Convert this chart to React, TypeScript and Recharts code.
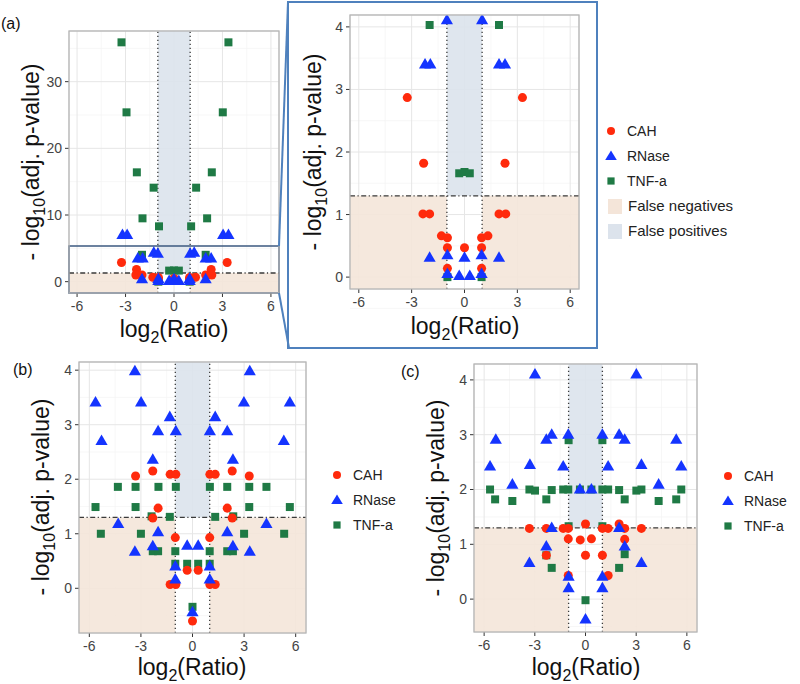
import React from "react"
import { CartesianGrid, ReferenceArea, ReferenceLine, Scatter, ScatterChart, XAxis, YAxis, ZAxis } from "recharts"

type Pt = [number, number]

// (a) one run, shown whole and zoomed into the bottom strip
const aCAH: Pt[] = [
  [-3.25, 2.87], [3.29, 2.87], [-2.32, 1.82], [2.3, 1.82], [-2.36, 1.01], [-1.98, 1.01], [1.96, 1.01], [2.34, 1.01],
  [-1.31, 0.66], [-0.97, 0.63], [0.97, 0.63], [1.33, 0.66], [-0.97, 0.47], [0, 0.47], [0.97, 0.47], [-0.97, 0.14], [0.97, 0.14],
]
const aRNase: Pt[] = [
  [-3.19, 6.93], [-2.9, 6.93], [3.04, 6.93], [3.37, 6.93], [-1.25, 4.25], [-1.0, 4.1], [1.0, 4.1], [1.25, 4.25],
  [-2.24, 3.39], [-1.94, 3.39], [1.96, 3.39], [2.3, 3.39], [-1.98, 0.3], [1.96, 0.3], [-0.97, 0.34], [0, 0.3], [0.97, 0.34],
  [-0.97, 0.04], [0.97, 0.04], [-0.3, 0.01], [0.3, 0.01],
]
const aTNF: Pt[] = [
  [-3.25, 35.9], [3.37, 35.9], [-2.94, 25.4], [3.02, 25.4], [-2.3, 16.4], [2.34, 16.4], [-1.26, 14.1], [1.37, 14.1],
  [-1.95, 9.5], [2.05, 9.5], [-0.93, 8.3], [1.06, 8.3], [-1.98, 4.03], [1.96, 4.03], [-0.3, 1.66], [0, 1.68], [0.3, 1.66],
  [-0.97, 0], [0.97, 0],
]

// (b)
const bCAH: Pt[] = [
  [-3.31, 2.06], [3.3, 2.06], [-2.31, 2.15], [2.31, 2.15], [-1.3, 2.09], [-0.97, 2.09], [1.01, 2.09], [1.32, 2.09],
  [-2.0, 1.47], [2.02, 1.47], [-2.31, 1.29], [2.31, 1.29], [-1, 0.93], [1, 0.93], [-0.31, 0.33], [0.33, 0.33],
  [-1.3, 0.07], [-0.97, 0.07], [1.01, 0.07], [1.32, 0.07], [0, -0.6],
]
const bRNase: Pt[] = [
  [-3.35, 3.97], [3.33, 3.97], [-5.64, 3.4], [-2.99, 3.4], [2.99, 3.4], [5.66, 3.4], [-1.32, 3.13], [1.32, 3.13],
  [-2.0, 2.87], [-0.97, 2.87], [1.01, 2.87], [2.02, 2.87], [-5.29, 2.69], [5.31, 2.69], [-2.31, 2.35], [2.35, 2.35],
  [-4.32, 1.17], [4.3, 1.17], [-2.0, 1.02], [2.02, 1.02], [-3.35, 0.66], [3.33, 0.66], [-2.31, 0.76], [2.35, 0.76],
  [-0.31, 0.77], [0.33, 0.77], [-1, 0.39], [1, 0.39], [-1, 0.15], [1, 0.15], [0, -0.45],
]
const bTNF: Pt[] = [
  [-4.34, 1.86], [-3.31, 1.86], [-1.98, 1.86], [-0.97, 1.86], [1.01, 1.86], [2.02, 1.86], [3.3, 1.86], [4.3, 1.86],
  [-5.64, 1.49], [-3.31, 1.49], [3.3, 1.49], [5.66, 1.49], [-5.33, 1.0], [-3.0, 1.0], [3.0, 1.0], [5.33, 1.0],
  [-2.38, 1.32], [-1.32, 1.31], [1.32, 1.31], [2.37, 1.32], [-2.31, 0.68], [-2.0, 0.68], [-1, 0.68], [1, 0.68],
  [2.02, 0.68], [2.35, 0.68], [-1, 0.45], [-0.31, 0.45], [0.33, 0.45], [1, 0.45], [0, -0.34],
]

// (c)
const cCAH: Pt[] = [
  [-3.32, 1.29], [-2.32, 1.29], [-1.32, 1.29], [-1.02, 1.29], [1.0, 1.29], [1.34, 1.29], [2.32, 1.29], [3.31, 1.29],
  [0, 1.37], [1.99, 1.37], [-1.02, 1.1], [-0.31, 1.08], [0.35, 1.1], [2.32, 1.09], [0, 0.8], [1.0, 0.8], [-2.32, 0.8],
  [-1.02, 0.43], [1.34, 0.43],
]
const cRNase: Pt[] = [
  [-2.99, 4.09], [3.01, 4.09], [-5.31, 2.9], [-2.32, 2.9], [-2.0, 2.99], [-1.02, 2.99], [1.0, 2.99], [1.99, 2.99],
  [2.32, 2.9], [5.37, 2.9], [-5.65, 2.41], [-3.29, 2.44], [-1.32, 2.41], [1.34, 2.41], [3.31, 2.44], [5.67, 2.41],
  [-4.33, 2.08], [4.33, 2.08], [-0.33, 1.99], [0.35, 1.99], [-2.0, 1.29], [1.99, 1.29], [-2.32, 0.95], [2.32, 0.95],
  [-3.32, 0.65], [3.31, 0.65], [-1, 0.4], [1, 0.4], [-1, 0.19], [1, 0.19], [0, -0.38],
]
const cTNF: Pt[] = [
  [-5.65, 2.0], [-5.35, 1.82], [-4.33, 1.79], [-3.32, 2.0], [-2.99, 1.98], [-2.32, 1.82], [-2.0, 1.99], [-1.32, 2.0],
  [-1.02, 2.0], [-0.33, 2.0], [0.35, 2.0], [1.0, 2.0], [1.34, 2.0], [1.99, 1.99], [2.32, 1.82], [3.01, 1.98],
  [3.31, 2.0], [4.33, 1.79], [5.37, 1.82], [5.67, 2.0], [-1, 2.9], [1, 2.9], [-1, 1.33], [1, 1.33],
  [-2.32, 0.8], [2.32, 0.82], [-2.0, 0.57], [1.99, 0.57], [0, -0.02],
]

const seriesNames = ["CAH", "RNase", "TNF-a"]
const colors: Record<string, string> = { CAH: "#ff2a0c", RNase: "#1434ff", "TNF-a": "#1f7a45" }
const shapes: Record<string, "circle" | "triangle" | "square"> = { CAH: "circle", RNase: "triangle", "TNF-a": "square" }

const xTicks = [-6, -3, 0, 3, 6]
const xMinor = [-4.5, -1.5, 1.5, 4.5]
const yTicksWide = [0, 10, 20, 30]
const yMinorWide = [5, 15, 25, 35]
const yTicks = [0, 1, 2, 3, 4]
const yMinor = [-0.5, 0.5, 1.5, 2.5, 3.5]

const foldCut = 1
const pCut = 1.3
const zoomStripTop = 5.35

const font = "'Liberation Sans', Arial, Helvetica, sans-serif"
const fnFill = "#f4e5d9"
const fpFill = "#dce3ec"

type Box = { left: number; top: number; width: number; height: number }

const boxA: Box = { left: 69, top: 31, width: 210, height: 262 }
const boxZoom: Box = { left: 350, top: 15, width: 229, height: 274 }
const boxB: Box = { left: 79, top: 362, width: 227, height: 271 }
const boxC: Box = { left: 474, top: 364, width: 223, height: 268 }

const toPts = (a: Pt[]) => a.map(([x, y]) => ({ x, y }))

type Sets = Record<string, Pt[]>

function Volcano(props: {
  box: Box
  xDomain: [number, number]
  yDomain: [number, number]
  yTicks: number[]
  yMinor: number[]
  sets: Sets
  strip?: boolean
}) {
  const { box, xDomain, yDomain, sets } = props
  const yW = 44
  const mTop = 6
  const mRight = 6
  const xH = 30
  const drawOrder = ["TNF-a", "CAH", "RNase"]
  return (
    <div style={{ position: "absolute", left: box.left - yW, top: box.top - mTop }}>
      <ScatterChart
        width={yW + box.width + mRight}
        height={mTop + box.height + xH}
        margin={{ top: mTop, right: mRight, left: 0, bottom: 0 }}
      >
        <CartesianGrid stroke="#f3f3f3" strokeWidth={0.7} verticalValues={xMinor} horizontalValues={props.yMinor} />
        <CartesianGrid stroke="#e6e6e6" strokeWidth={1} />
        <XAxis
          type="number"
          dataKey="x"
          domain={xDomain}
          ticks={xTicks}
          interval={0}
          allowDataOverflow
          axisLine={false}
          tickSize={4}
          tickMargin={4}
          tickLine={{ stroke: "#333" }}
          tick={{ fontSize: 14, fill: "#444", fontFamily: font }}
          height={xH}
        />
        <YAxis
          type="number"
          dataKey="y"
          domain={yDomain}
          ticks={props.yTicks}
          interval={0}
          allowDataOverflow
          axisLine={false}
          tickSize={4}
          tickMargin={3}
          tickLine={{ stroke: "#333" }}
          tick={{ fontSize: 14, fill: "#444", fontFamily: font }}
          width={yW}
        />
        <ZAxis range={[56, 56]} />
        <ReferenceArea x1={xDomain[0]} x2={-foldCut} y1={yDomain[0]} y2={pCut} fill={fnFill} fillOpacity={0.9} />
        <ReferenceArea x1={foldCut} x2={xDomain[1]} y1={yDomain[0]} y2={pCut} fill={fnFill} fillOpacity={0.9} />
        <ReferenceArea x1={-foldCut} x2={foldCut} y1={pCut} y2={yDomain[1]} fill={fpFill} fillOpacity={0.9} />
        <ReferenceLine x={-foldCut} stroke="#3a3a3a" strokeWidth={1.3} strokeDasharray="1.2 2.8" />
        <ReferenceLine x={foldCut} stroke="#3a3a3a" strokeWidth={1.3} strokeDasharray="1.2 2.8" />
        <ReferenceLine y={pCut} stroke="#3a3a3a" strokeWidth={1.3} strokeDasharray="5 2.5 1.2 2.5" />
        {drawOrder.map((name) => (
          <Scatter
            key={name}
            name={name}
            data={toPts(sets[name])}
            fill={colors[name]}
            shape={shapes[name]}
            isAnimationActive={false}
          />
        ))}
        {props.strip && (
          <ReferenceArea
            x1={xDomain[0]}
            x2={xDomain[1]}
            y1={yDomain[0]}
            y2={zoomStripTop}
            fill="none"
            fillOpacity={0}
            stroke="#3d5a80"
            strokeWidth={1.6}
          />
        )}
      </ScatterChart>
    </div>
  )
}

function XTitle({ cx, y }: { cx: number; y: number }) {
  return (
    <text x={cx} y={y} textAnchor="middle" fontSize={23} fontFamily={font} fill="#111">
      log<tspan dy={6} fontSize={16}>2</tspan>
      <tspan dy={-6}>(Ratio)</tspan>
    </text>
  )
}

function YTitle({ x, cy }: { x: number; cy: number }) {
  return (
    <text transform={`translate(${x},${cy}) rotate(-90)`} textAnchor="middle" fontSize={23} fontFamily={font} fill="#111">
      - log<tspan dy={6} fontSize={16}>10</tspan>
      <tspan dy={-6}>(adj. p-value)</tspan>
    </text>
  )
}

function Key({ name, cx, cy }: { name: string; cx: number; cy: number }) {
  const c = colors[name]
  if (shapes[name] === "circle") return <circle cx={cx} cy={cy} r={4} fill={c} />
  if (shapes[name] === "triangle")
    return <polygon points={`${cx},${cy - 5.5} ${cx - 5.8},${cy + 4} ${cx + 5.8},${cy + 4}`} fill={c} />
  return <rect x={cx - 3.6} y={cy - 3.6} width={7.2} height={7.2} fill={c} />
}

function SeriesLegend({ x, y }: { x: number; y: number }) {
  return (
    <g>
      {seriesNames.map((n, i) => (
        <g key={n}>
          <Key name={n} cx={x} cy={y + i * 25} />
          <text x={x + 16} y={y + 5 + i * 25} fontSize={14} fontFamily={font} fill="#222">
            {n}
          </text>
        </g>
      ))}
    </g>
  )
}

function Border({ b }: { b: Box }) {
  return <rect x={b.left} y={b.top} width={b.width} height={b.height} fill="none" stroke="#b5b5b5" strokeWidth={1.3} />
}

export default function App() {
  const setsA: Sets = { CAH: aCAH, RNase: aRNase, "TNF-a": aTNF }
  const setsB: Sets = { CAH: bCAH, RNase: bRNase, "TNF-a": bTNF }
  const setsC: Sets = { CAH: cCAH, RNase: cRNase, "TNF-a": cTNF }
  return (
    <div style={{ position: "absolute", left: 0, top: 0, width: 800, height: 684, background: "#fff", fontFamily: font }}>
      <Volcano box={boxA} xDomain={[-6.5, 6.5]} yDomain={[-1.7, 37.6]} yTicks={yTicksWide} yMinor={yMinorWide} sets={setsA} strip />
      <Volcano box={boxZoom} xDomain={[-6.5, 6.5]} yDomain={[-0.19, 4.19]} yTicks={yTicks} yMinor={yMinor} sets={setsA} />
      <Volcano box={boxB} xDomain={[-6.6, 6.6]} yDomain={[-0.82, 4.15]} yTicks={yTicks} yMinor={yMinor} sets={setsB} />
      <Volcano box={boxC} xDomain={[-6.6, 6.6]} yDomain={[-0.6, 4.29]} yTicks={yTicks} yMinor={yMinor} sets={setsC} />
      <svg width={800} height={684} style={{ position: "absolute", left: 0, top: 0, pointerEvents: "none" }}>
        <Border b={boxA} />
        <Border b={boxZoom} />
        <Border b={boxB} />
        <Border b={boxC} />
        <rect x={288} y={2} width={309} height={346} fill="none" stroke="#4f81bd" strokeWidth={2} />
        <line x1={279} y1={246} x2={288} y2={2} stroke="#4f81bd" strokeWidth={2} />
        <line x1={279} y1={293} x2={289} y2={348} stroke="#4f81bd" strokeWidth={2} />

        <text x={1} y={29} fontSize={16} fontFamily={font} fill="#111">(a)</text>
        <text x={13} y={375} fontSize={16} fontFamily={font} fill="#111">(b)</text>
        <text x={401} y={377} fontSize={16} fontFamily={font} fill="#111">(c)</text>

        <YTitle x={39} cy={162} />
        <XTitle cx={174} y={337} />
        <YTitle x={321} cy={152} />
        <XTitle cx={465} y={334} />
        <YTitle x={49} cy={497} />
        <XTitle cx={192} y={675} />
        <YTitle x={444} cy={498} />
        <XTitle cx={586} y={675} />

        <SeriesLegend x={611} y={131} />
        <rect x={608} y={199} width={14} height={15} fill={fnFill} />
        <text x={628} y={211} fontSize={15} fontFamily={font} fill="#222">False negatives</text>
        <rect x={608} y={224} width={14} height={15} fill={fpFill} />
        <text x={628} y={236} fontSize={15} fontFamily={font} fill="#222">False positives</text>

        <SeriesLegend x={337} y={475} />
        <SeriesLegend x={728} y={476} />
      </svg>
    </div>
  )
}
